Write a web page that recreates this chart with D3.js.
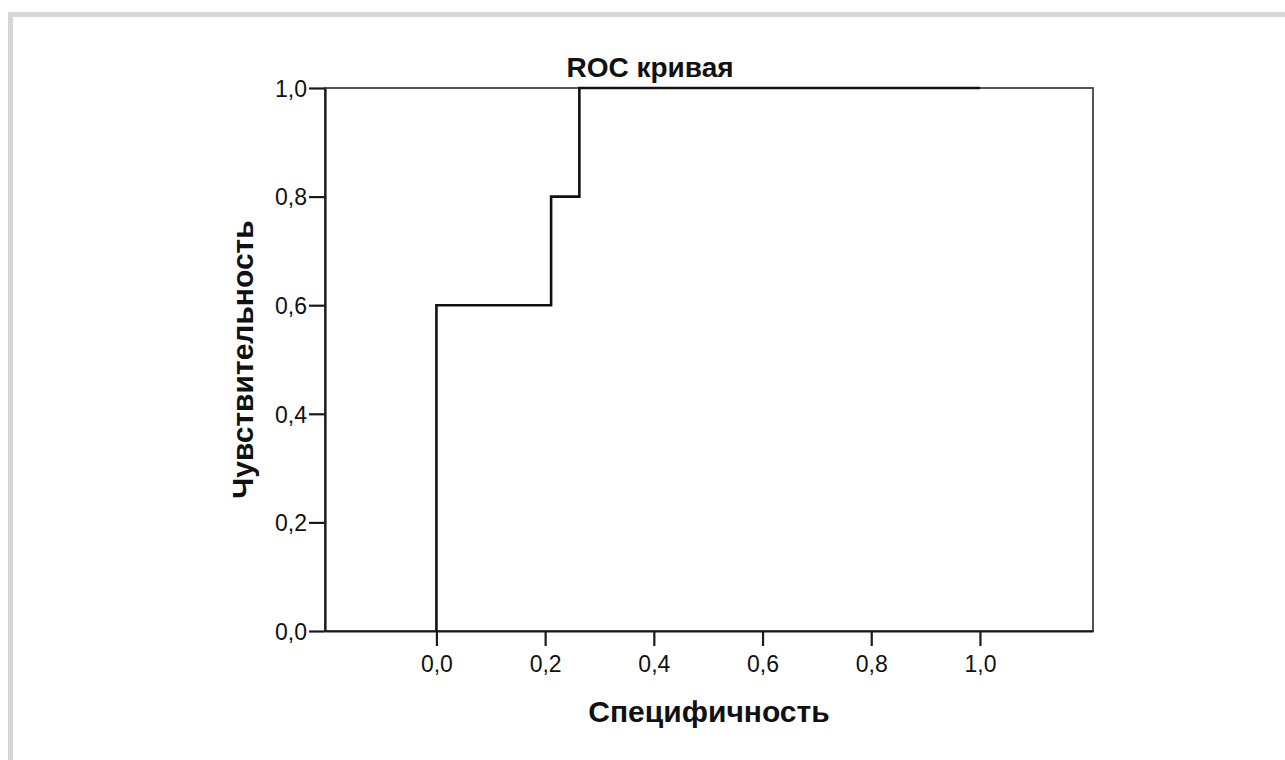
<!DOCTYPE html>
<html>
<head>
<meta charset="utf-8">
<script src="https://cdn.jsdelivr.net/npm/d3@7"></script>
<style>
  body { margin: 0; background: #fff; }
  text { font-family: Arial, "Liberation Sans", sans-serif; fill: #111; }
</style>
</head>
<body>
<div id="chart"></div>
<script>
// ROC points (1 - specificity, sensitivity)
let fpr = [0, 0, 0.211, 0.263, 1];
let tpr = [0, 0.6, 0.8, 1, 1];
let xTicks = [0, 0.2, 0.4, 0.6, 0.8, 1.0];
let yTicks = [0, 0.2, 0.4, 0.6, 0.8, 1.0];
let titleText = "ROC кривая";
let xLabel = "Специфичность";
let yLabel = "Чувствительность";

let width = 1285,
    height = 760,
    margin = { top: 88, left: 325, right: 192, bottom: 129 };

let svg = d3.select("#chart")
  .append("svg")
  .attr("width", width)
  .attr("height", height);

// light grey page frame (only top and left edges are visible)
svg.append("path")
  .attr("fill", "none")
  .attr("stroke", "#d6d6d6")
  .attr("stroke-width", 5)
  .attr("d", "M10.5," + height + "V14.5H" + width);

let x = d3.scaleLinear()
  .domain([-0.205, 1.208])
  .range([margin.left, width - margin.right]);

let y = d3.scaleLinear()
  .domain([0, 1])
  .range([height - margin.bottom, margin.top]);

let fmt = d => d3.format(".1f")(d).replace(".", ",");

// frame around the plot
svg.append("rect")
  .attr("x", x.range()[0])
  .attr("y", y.range()[1])
  .attr("width", x.range()[1] - x.range()[0])
  .attr("height", y.range()[0] - y.range()[1])
  .attr("fill", "none")
  .attr("stroke", "#555")
  .attr("stroke-width", 2);

let xAxis = svg.append("g")
  .attr("transform", `translate(0,${y(0)})`)
  .call(d3.axisBottom(x).tickValues(xTicks).tickFormat(fmt).tickSize(15).tickSizeOuter(0));

let yAxis = svg.append("g")
  .attr("transform", `translate(${x.range()[0]},0)`)
  .call(d3.axisLeft(y).tickValues(yTicks).tickFormat(fmt).tickSize(16).tickSizeOuter(0));

[xAxis, yAxis].forEach(g => {
  g.select(".domain").attr("stroke", "#1a1a1a").attr("stroke-width", 2.2);
  g.selectAll(".tick line").attr("stroke", "#1a1a1a").attr("stroke-width", 2.2);
  g.selectAll(".tick text")
    .attr("font-size", 23)
    .attr("font-family", "Arial, 'Liberation Sans', sans-serif")
    .attr("fill", "#222");
});
xAxis.selectAll(".tick text").attr("dy", "0.75em").attr("y", 24);
yAxis.selectAll(".tick text").attr("x", -18).attr("dy", "0.36em");

// ROC curve
let line = d3.line()
  .x((d, i) => x(fpr[i]))
  .y((d, i) => y(tpr[i]))
  .curve(d3.curveStepAfter);

svg.append("path")
  .datum(fpr)
  .attr("fill", "none")
  .attr("stroke", "#111")
  .attr("stroke-width", 2.6)
  .attr("d", line);

// title and axis labels
svg.append("text")
  .attr("x", 650)
  .attr("y", 77)
  .attr("text-anchor", "middle")
  .attr("font-size", 28)
  .attr("font-weight", "bold")
  .text(titleText);

svg.append("text")
  .attr("x", (x.range()[0] + x.range()[1]) / 2)
  .attr("y", 722)
  .attr("text-anchor", "middle")
  .attr("font-size", 30)
  .attr("font-weight", "bold")
  .text(xLabel);

svg.append("text")
  .attr("transform", `translate(253,${(y.range()[0] + y.range()[1]) / 2}) rotate(-90)`)
  .attr("text-anchor", "middle")
  .attr("font-size", 30)
  .attr("font-weight", "bold")
  .text(yLabel);
</script>
</body>
</html>
